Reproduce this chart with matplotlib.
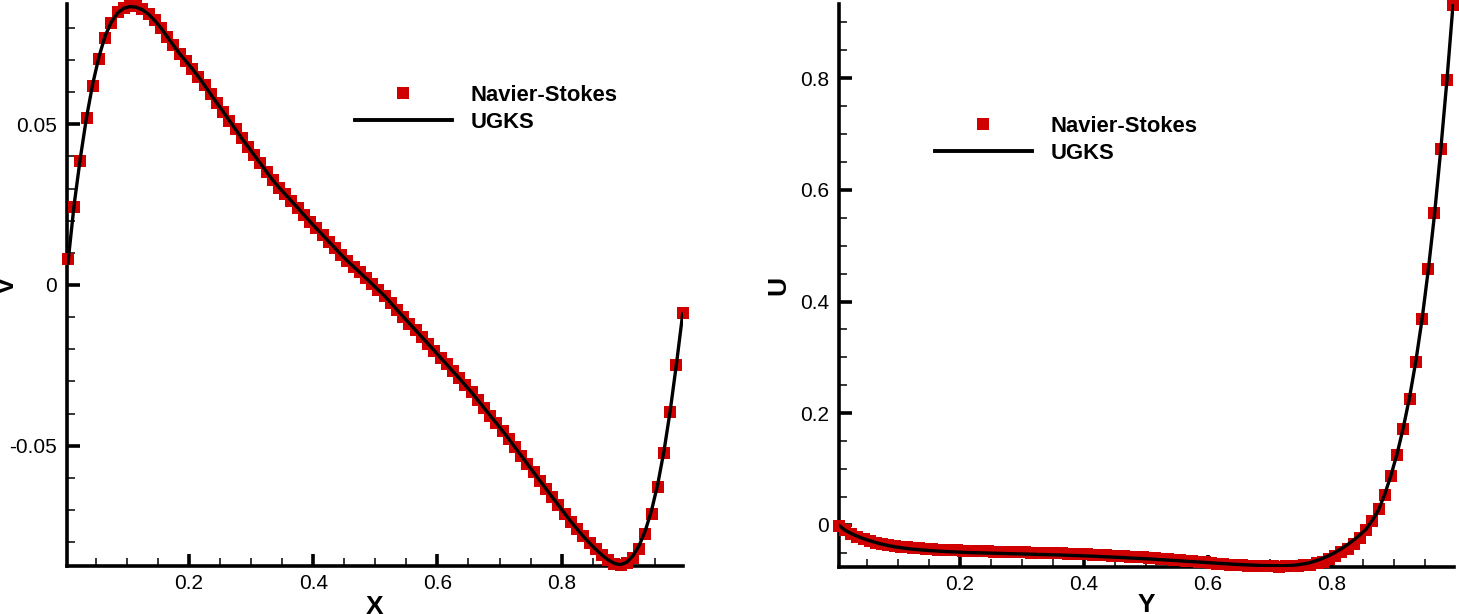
import numpy as np
import matplotlib
matplotlib.use("Agg")
import matplotlib.pyplot as plt
from matplotlib.ticker import FixedLocator, FixedFormatter, MultipleLocator
from matplotlib.lines import Line2D

plt.rcParams['font.family'] = ['Liberation Sans', 'DejaVu Sans']
plt.rcParams['axes.unicode_minus'] = False

# ---------------- data ----------------
# sample positions (cell centres)
pos = np.round(np.arange(100) * 0.01 + 0.005, 3)

# Left panel: V along horizontal centreline vs X
v_ns = [
    0.0080, 0.0244, 0.0387, 0.0519, 0.0620, 0.0703, 0.0768, 0.0814, 0.0848, 0.0862,
    0.0869, 0.0867, 0.0858, 0.0843, 0.0823, 0.0799, 0.0772, 0.0745, 0.0719, 0.0696,
    0.0673, 0.0648, 0.0621, 0.0593, 0.0566, 0.0539, 0.0511, 0.0484, 0.0456, 0.0430,
    0.0404, 0.0378, 0.0352, 0.0326, 0.0303, 0.0282, 0.0261, 0.0240, 0.0218, 0.0197,
    0.0176, 0.0156, 0.0135, 0.0115, 0.0094, 0.0075, 0.0057, 0.0039, 0.0021, 0.0003,
    -0.0016, -0.0034, -0.0056, -0.0077, -0.0099, -0.0120, -0.0141, -0.0162, -0.0183, -0.0204,
    -0.0226, -0.0247, -0.0269, -0.0290, -0.0312, -0.0334, -0.0358, -0.0382, -0.0406, -0.0430,
    -0.0454, -0.0479, -0.0505, -0.0531, -0.0557, -0.0583, -0.0609, -0.0634, -0.0660, -0.0685,
    -0.0711, -0.0736, -0.0759, -0.0782, -0.0803, -0.0822, -0.0841, -0.0856, -0.0867, -0.0870,
    -0.0864, -0.0848, -0.0820, -0.0776, -0.0712, -0.0628, -0.0522, -0.0394, -0.0249, -0.0086,
]
v_ugks = [
    0.0068, 0.0250, 0.0395, 0.0522, 0.0626, 0.0710, 0.0775, 0.0818, 0.0846, 0.0861,
    0.0866, 0.0864, 0.0856, 0.0842, 0.0822, 0.0799, 0.0772, 0.0745, 0.0719, 0.0696,
    0.0673, 0.0648, 0.0621, 0.0593, 0.0566, 0.0539, 0.0511, 0.0484, 0.0456, 0.0430,
    0.0404, 0.0378, 0.0352, 0.0326, 0.0303, 0.0282, 0.0261, 0.0240, 0.0218, 0.0197,
    0.0176, 0.0156, 0.0135, 0.0115, 0.0094, 0.0075, 0.0057, 0.0039, 0.0021, 0.0003,
    -0.0016, -0.0034, -0.0056, -0.0077, -0.0099, -0.0120, -0.0141, -0.0162, -0.0183, -0.0204,
    -0.0226, -0.0247, -0.0269, -0.0290, -0.0312, -0.0334, -0.0358, -0.0382, -0.0406, -0.0430,
    -0.0454, -0.0479, -0.0505, -0.0531, -0.0557, -0.0583, -0.0609, -0.0634, -0.0660, -0.0685,
    -0.0711, -0.0736, -0.0759, -0.0782, -0.0803, -0.0822, -0.0840, -0.0855, -0.0866, -0.0870,
    -0.0862, -0.0842, -0.0810, -0.0763, -0.0700, -0.0618, -0.0515, -0.0390, -0.0245, -0.0090,
]

# Right panel: U along vertical centreline vs Y
u_ns = [
    -0.0020, -0.0090, -0.0165, -0.0218, -0.0258, -0.0290, -0.0318, -0.0340, -0.0360, -0.0378,
    -0.0392, -0.0404, -0.0414, -0.0423, -0.0431, -0.0438, -0.0444, -0.0450, -0.0455, -0.0460,
    -0.0464, -0.0468, -0.0472, -0.0475, -0.0478, -0.0481, -0.0484, -0.0487, -0.0490, -0.0493,
    -0.0496, -0.0499, -0.0502, -0.0505, -0.0508, -0.0511, -0.0514, -0.0518, -0.0522, -0.0526,
    -0.0530, -0.0535, -0.0540, -0.0545, -0.0550, -0.0556, -0.0562, -0.0568, -0.0575, -0.0582,
    -0.0590, -0.0598, -0.0606, -0.0615, -0.0624, -0.0634, -0.0644, -0.0654, -0.0664, -0.0674,
    -0.0684, -0.0694, -0.0703, -0.0712, -0.0720, -0.0727, -0.0733, -0.0738, -0.0742, -0.0745,
    -0.0747, -0.0748, -0.0747, -0.0744, -0.0738, -0.0729, -0.0713, -0.0692, -0.0660, -0.0615,
    -0.0560, -0.0495, -0.0425, -0.0337, -0.0229, -0.0099, 0.0068, 0.0278, 0.0541, 0.0869,
    0.1246, 0.1724, 0.2255, 0.2910, 0.3680, 0.4585, 0.5590, 0.6740, 0.7960, 0.9310,
]
u_ugks = [
    -0.0005, -0.0095, -0.0155, -0.0205, -0.0248, -0.0285, -0.0318, -0.0347, -0.0372, -0.0393,
    -0.0410, -0.0425, -0.0437, -0.0447, -0.0456, -0.0464, -0.0471, -0.0477, -0.0483, -0.0488,
    -0.0493, -0.0497, -0.0500, -0.0503, -0.0506, -0.0509, -0.0512, -0.0515, -0.0518, -0.0521,
    -0.0524, -0.0527, -0.0530, -0.0533, -0.0536, -0.0539, -0.0542, -0.0546, -0.0550, -0.0554,
    -0.0558, -0.0563, -0.0568, -0.0573, -0.0578, -0.0583, -0.0588, -0.0594, -0.0600, -0.0606,
    -0.0612, -0.0618, -0.0625, -0.0632, -0.0639, -0.0646, -0.0653, -0.0660, -0.0667, -0.0674,
    -0.0681, -0.0688, -0.0695, -0.0702, -0.0708, -0.0714, -0.0719, -0.0724, -0.0728, -0.0731,
    -0.0733, -0.0734, -0.0733, -0.0728, -0.0715, -0.0700, -0.0676, -0.0642, -0.0600, -0.0552,
    -0.0495, -0.0428, -0.0355, -0.0272, -0.0180, -0.0075, 0.0080, 0.0270, 0.0550, 0.0890,
    0.1280, 0.1750, 0.2290, 0.2930, 0.3680, 0.4560, 0.5550, 0.6700, 0.7950, 0.9330,
]

labels = ["Navier-Stokes", "UGKS"]
left_yticks = [-0.05, 0.0, 0.05]
left_yticklabels = ["-0.05", "0", "0.05"]
right_yticks = [0.0, 0.2, 0.4, 0.6, 0.8]
right_yticklabels = ["0", "0.2", "0.4", "0.6", "0.8"]
xticks = [0.2, 0.4, 0.6, 0.8]
xticklabels = ["0.2", "0.4", "0.6", "0.8"]

# ---------------- style ----------------
RED = "#d00000"
W, H = 1459, 614
fig = plt.figure(figsize=(W / 100, H / 100), dpi=100)

def px_axes(x0, x1, y0, y1):
    return fig.add_axes([x0 / W, 1 - y1 / H, (x1 - x0) / W, (y1 - y0) / H])

axL = px_axes(67, 683, 4, 566)
axR = px_axes(839, 1454, 4, 567)

def style(ax, xlim, ylim, yt, ytl, yminor, xlabel, ylabel, ylab_x, xlab_y):
    ax.set_xlim(*xlim)
    ax.set_ylim(*ylim)
    for s in ["top", "right"]:
        ax.spines[s].set_visible(False)
    for s in ["left", "bottom"]:
        ax.spines[s].set_linewidth(2.6)
    ax.xaxis.set_major_locator(FixedLocator(xticks))
    ax.xaxis.set_major_formatter(FixedFormatter(xticklabels))
    ax.xaxis.set_minor_locator(MultipleLocator(0.05))
    ax.yaxis.set_major_locator(FixedLocator(yt))
    ax.yaxis.set_major_formatter(FixedFormatter(ytl))
    ax.yaxis.set_minor_locator(MultipleLocator(yminor))
    ax.tick_params(which="major", direction="in", length=9, width=2.6,
                   labelsize=15, pad=7)
    ax.tick_params(which="minor", direction="in", length=5.5, width=1.1)
    ax.tick_params(axis="x", which="major", pad=6)
    ax.set_xlabel(xlabel, fontsize=19, fontweight="bold")
    ax.set_ylabel(ylabel, fontsize=19, fontweight="bold")
    ax.yaxis.set_label_coords(ylab_x, 0.5)
    ax.xaxis.set_label_coords(0.5, xlab_y)

def draw(ax, x, ns, ug, leg_xy):
    ax.plot(x, ns, linestyle="none", marker="s", markersize=8,
            markeredgewidth=0, color=RED, clip_on=False, zorder=3)
    ax.plot(x, ug, color="black", linewidth=2.4, zorder=4)
    h1 = Line2D([], [], linestyle="none", marker="s", markersize=8,
                markeredgewidth=0, color=RED)
    h2 = Line2D([], [], color="black", linewidth=2.8)
    ax.legend([h1, h2], labels, loc="upper left",
              bbox_to_anchor=(leg_xy[0] / W, 1 - leg_xy[1] / H),
              bbox_transform=fig.transFigure, frameon=False, borderpad=0,
              borderaxespad=0, handlelength=4.4, handletextpad=0.85,
              labelspacing=0.27, numpoints=1,
              prop=dict(weight="bold", size=15.8))

draw(axL, pos, v_ns, v_ugks, (355, 85))
style(axL, (0.0035, 0.9955), (-0.0874, 0.0874), left_yticks, left_yticklabels,
      0.01, "X", "V", -0.078, -0.052)

draw(axR, pos, u_ns, u_ugks, (935, 116))
style(axR, (0.0055, 0.9965), (-0.0756, 0.933), right_yticks, right_yticklabels,
      0.05, "Y", "U", -0.079, -0.047)

fig.savefig("out.png", dpi=100)
